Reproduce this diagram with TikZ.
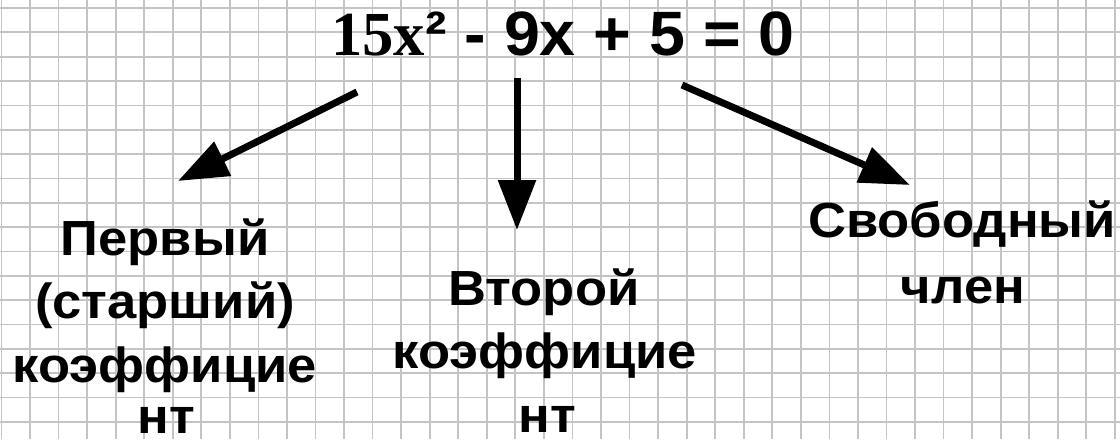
\documentclass[tikz,border=0pt]{standalone}
\usepackage{fontspec}
\usetikzlibrary{arrows.meta}
\newfontfamily\lblfont[FakeStretch=1.065]{Liberation Sans Bold}
\newfontfamily\eqsans[FakeStretch=1.03]{Liberation Sans Bold}
\newfontfamily\eqserif{Liberation Serif Bold}
\begin{document}
\begin{tikzpicture}[x=0.75pt,y=-0.75pt,
  gridline/.style={line width=1.3pt,color=black!23},
  arrowline/.style={line width=5.25pt,-{Triangle[length=37.5pt,width=27.5pt]}},
  lbl/.style={font=\fontsize{37pt}{42pt}\lblfont,inner sep=0pt,anchor=base}]
\fill[white] (0,0) rectangle (1120,439);
\useasboundingbox (0,0) rectangle (1120,439);
\foreach \k in {-1,...,38} {\draw[gridline] ({30+28.55*\k},0) -- ({30+28.55*\k},439);}
\foreach \k in {0,...,17} {\draw[gridline] (0,{8+24.35*\k}) -- (1120,{8+24.35*\k});}
% equation
\node[inner sep=0pt,anchor=base west] (eq) at (331,55)
  {\fontsize{47pt}{50pt}\selectfont{\eqserif 15x}{\eqsans ²}\eqsans{} - 9x + 5 = 0};
% left label
\node[lbl] (l1) at (165,255) {Первый};
\node[lbl] (l2) at (165,318) {(старший)};
\node[lbl] (l3) at (165,382) {коэффицие};
\node[lbl] (l4) at (166,433) {нт};
% middle label
\node[lbl] (m1) at (544,305) {Второй};
\node[lbl] (m2) at (545,368) {коэффицие};
\node[lbl] (m3) at (547,432) {нт};
% right label
\node[lbl] (r1) at (962,237) {Свободный};
\node[lbl] (r2) at (963,303) {член};
% arrows
\coordinate (as1) at (357,92);
\coordinate (ae1) at (178,181);
\coordinate (as2) at (517,78);
\coordinate (ae2) at (517,230);
\coordinate (as3) at (682,85);
\coordinate (ae3) at (910,185);
\draw[arrowline] (as1) -- (ae1);
\draw[arrowline] (as2) -- (ae2);
\draw[arrowline] (as3) -- (ae3);
\end{tikzpicture}
\end{document}
